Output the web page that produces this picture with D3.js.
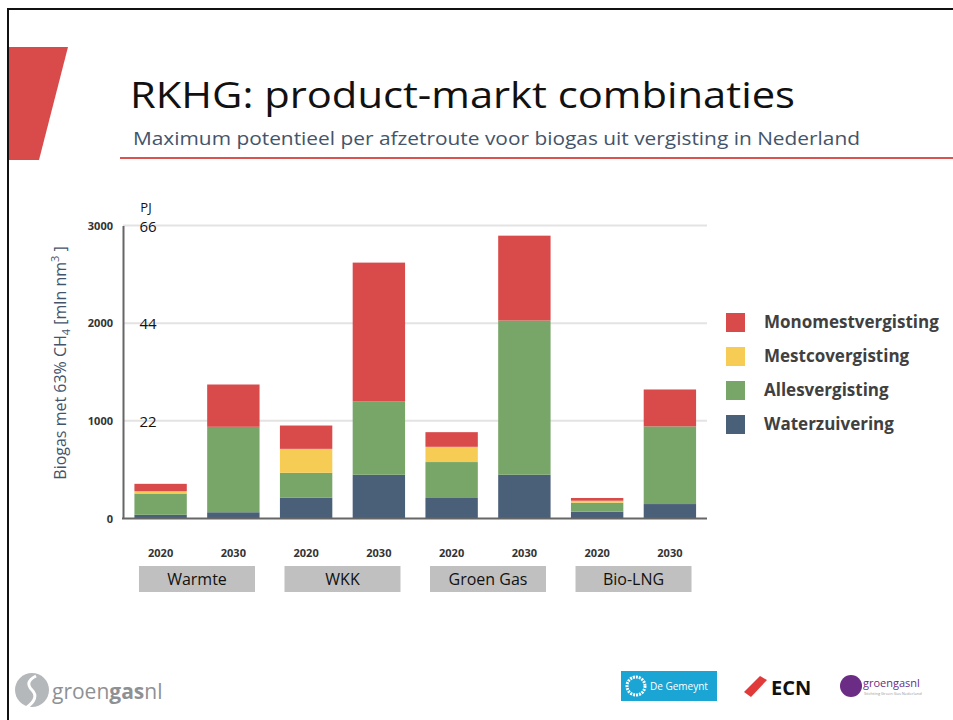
<!DOCTYPE html>
<html>
<head>
<meta charset="utf-8">
<script src="https://cdn.jsdelivr.net/npm/d3@7"></script>
<style>
  body { margin: 0; background: #fff; }
  svg { display: block; }
  text { font-family: "Open Sans", sans-serif; }
</style>
</head>
<body>
<div id="chart"></div>
<script>
var groups = ['Warmte', 'WKK', 'Groen Gas', 'Bio-LNG'],
    years = ['2020', '2030'],
    categories = ['Warmte 2020', 'Warmte 2030', 'WKK 2020', 'WKK 2030',
                  'Groen Gas 2020', 'Groen Gas 2030', 'Bio-LNG 2020', 'Bio-LNG 2030'];

var waterzuivering     = [38, 64, 212, 448, 210, 448, 70, 148],
    allesvergisting    = [218, 875, 256, 753, 368, 1579, 92, 795],
    mestcovergisting   = [23, 0, 245, 0, 156, 0, 20, 0],
    monomestvergisting = [76, 433, 239, 1419, 150, 869, 28, 378];

var yTicks = [0, 1000, 2000, 3000],
    pjTicks = [1000, 2000, 3000],
    pjLabels = ['22', '44', '66'];

var seriesNames = ['Waterzuivering', 'Allesvergisting', 'Mestcovergisting', 'Monomestvergisting'],
    legendOrder = ['Monomestvergisting', 'Mestcovergisting', 'Allesvergisting', 'Waterzuivering'];

var colours = ['#4a5f78', '#78a668', '#f6cc55', '#d94b4b'];

var width = 953, height = 720;

var svg = d3.select('#chart').append('svg')
    .attr('width', width)
    .attr('height', height);

// slide frame
svg.append('path')
    .attr('d', 'M8,720 L8,9 L953,9')
    .attr('fill', 'none')
    .attr('stroke', '#111')
    .attr('stroke-width', 2);

// red accent on the left
svg.append('path')
    .attr('d', 'M9,47 L68,47 L39,160 L9,160 Z')
    .attr('fill', '#d94b4b');

svg.append('text')
    .attr('x', 130)
    .attr('y', 108)
    .attr('textLength', 665)
    .attr('lengthAdjust', 'spacingAndGlyphs')
    .style('font-size', '37px')
    .style('fill', '#111')
    .text('RKHG: product-markt combinaties');

svg.append('text')
    .attr('x', 133)
    .attr('y', 145)
    .attr('textLength', 727)
    .attr('lengthAdjust', 'spacingAndGlyphs')
    .style('font-size', '19px')
    .style('fill', '#44546a')
    .text('Maximum potentieel per afzetroute voor biogas uit vergisting in Nederland');

svg.append('line')
    .attr('x1', 120).attr('x2', 953)
    .attr('y1', 158).attr('y2', 158)
    .attr('stroke', '#d9534f')
    .attr('stroke-width', 2);

// chart
var xScale = d3.scaleBand().domain(categories).range([123.5, 707])
        .paddingInner(0.28).paddingOuter(0.15),
    yScale = d3.scaleLinear().domain([0, 3000]).range([518.5, 225.5]),
    colourScale = d3.scaleOrdinal(seriesNames, colours);

var rows = categories.map(function(c, i) {
  return {
    cat: c,
    Waterzuivering: waterzuivering[i],
    Allesvergisting: allesvergisting[i],
    Mestcovergisting: mestcovergisting[i],
    Monomestvergisting: monomestvergisting[i]
  };
});

// gridlines
svg.append('g')
  .selectAll('line')
    .data(yTicks.filter(function(d) { return d > 0; }))
  .enter().append('line')
    .attr('x1', 123).attr('x2', 707)
    .attr('y1', function(d) { return yScale(d); })
    .attr('y2', function(d) { return yScale(d); })
    .attr('stroke', '#e3e3e3')
    .attr('stroke-width', 2);

var stacked = d3.stack().keys(seriesNames)(rows);

svg.append('g')
  .selectAll('g')
    .data(stacked)
  .enter().append('g')
    .attr('fill', function(d) { return colourScale(d.key); })
  .selectAll('rect')
    .data(function(d) { return d; })
  .enter().append('rect')
    .attr('x', function(d) { return xScale(d.data.cat); })
    .attr('width', xScale.bandwidth())
    .attr('y', function(d) { return yScale(d[1]); })
    .attr('height', function(d) { return yScale(d[0]) - yScale(d[1]); });

// axis lines
var yAxis = svg.append('g')
    .attr('transform', 'translate(123,0)')
    .call(d3.axisLeft(yScale).tickValues(yTicks).tickFormat(d3.format('d'))
      .tickSize(0).tickPadding(10));
yAxis.select('.domain').attr('stroke', '#666').attr('stroke-width', 2);
yAxis.selectAll('text')
    .style('font-size', '11px')
    .style('font-weight', 'bold')
    .style('fill', '#333');

svg.append('line')
    .attr('x1', 122).attr('x2', 707)
    .attr('y1', yScale(0)).attr('y2', yScale(0))
    .attr('stroke', '#666')
    .attr('stroke-width', 2);

// PJ secondary labels
svg.append('text')
    .attr('x', 146)
    .attr('y', 212)
    .style('font-size', '13px')
    .style('fill', '#111')
    .style('text-anchor', 'middle')
    .text('PJ');

svg.append('g')
  .selectAll('text')
    .data(pjTicks)
  .enter().append('text')
    .attr('x', 148)
    .attr('y', function(d) { return yScale(d) + 6; })
    .style('font-size', '15px')
    .style('fill', '#111')
    .style('text-anchor', 'middle')
    .text(function(d, i) { return pjLabels[i]; });

// y title
var yTitle = svg.append('text')
    .attr('transform', 'translate(66,363) rotate(-90)')
    .style('font-size', '16px')
    .style('fill', '#44546a')
    .style('text-anchor', 'middle');
yTitle.append('tspan').text('Biogas met 63% CH');
yTitle.append('tspan').attr('dy', 4).style('font-size', '11px').text('4');
yTitle.append('tspan').attr('dy', -4).text(' [mln nm');
yTitle.append('tspan').attr('dy', -7).style('font-size', '11px').text('3');
yTitle.append('tspan').attr('dy', 7).text(' ]');

// year labels
svg.append('g')
  .selectAll('text')
    .data(categories)
  .enter().append('text')
    .attr('x', function(d) { return xScale(d) + xScale.bandwidth() / 2; })
    .attr('y', 557)
    .style('font-size', '11px')
    .style('font-weight', 'bold')
    .style('fill', '#333')
    .style('text-anchor', 'middle')
    .text(function(d, i) { return years[i % 2]; });

// group boxes
var groupBoxes = svg.append('g')
  .selectAll('g')
    .data(groups)
  .enter().append('g')
    .attr('transform', function(d) {
      var cx = (xScale(d + ' 2020') + xScale(d + ' 2030') + xScale.bandwidth()) / 2;
      return 'translate(' + cx + ',0)';
    });

groupBoxes.append('rect')
    .attr('x', -58)
    .attr('y', 566)
    .attr('width', 116)
    .attr('height', 26)
    .attr('fill', '#c0c0c0');

groupBoxes.append('text')
    .attr('y', 585)
    .style('font-size', '16px')
    .style('fill', '#111')
    .style('text-anchor', 'middle')
    .text(function(d) { return d; });

// legend
var legend = svg.append('g')
  .selectAll('g')
    .data(legendOrder)
  .enter().append('g')
    .attr('transform', function(d, i) { return 'translate(726,' + (313 + i * 34) + ')'; });

legend.append('rect')
    .attr('width', 19)
    .attr('height', 19)
    .attr('fill', colourScale);

legend.append('text')
    .attr('x', 38)
    .attr('y', 15)
    .style('font-size', '17px')
    .style('font-weight', 'bold')
    .style('fill', '#404040')
    .text(function(d) { return d; });

// footer logos
var foot = svg.append('g');
foot.append('circle').attr('cx', 32).attr('cy', 690).attr('r', 17).attr('fill', '#b5b8bb');
foot.append('path')
    .attr('d', 'M36,676 q-12,6 -4,14 q8,8 -6,18')
    .attr('fill', 'none').attr('stroke', '#fff').attr('stroke-width', 3);
var gtxt = foot.append('text')
    .attr('x', 52).attr('y', 699)
    .style('font-size', '21px')
    .style('fill', '#8e9194');
gtxt.append('tspan').text('groen');
gtxt.append('tspan').style('font-weight', 'bold').text('gas');
gtxt.append('tspan').text('nl');

foot.append('rect').attr('x', 621).attr('y', 671).attr('width', 96).attr('height', 30).attr('fill', '#1aa5d4');
foot.append('circle').attr('cx', 636).attr('cy', 686).attr('r', 9)
    .attr('fill', 'none').attr('stroke', '#fff').attr('stroke-width', 3).attr('stroke-dasharray', '2,1');
foot.append('text').attr('x', 650).attr('y', 690)
    .style('font-size', '10px').style('fill', '#fff').text('De Gemeynt');

foot.append('path')
    .attr('d', 'M744,692 L760,676 L767,680 L751,697 Z')
    .attr('fill', '#e03a3a');
foot.append('text').attr('x', 771).attr('y', 695)
    .style('font-size', '20px').style('font-weight', 'bold').style('fill', '#111').text('ECN');

foot.append('circle').attr('cx', 851).attr('cy', 686).attr('r', 11).attr('fill', '#6a2c84');
foot.append('text').attr('x', 863).attr('y', 687)
    .style('font-size', '11px').style('fill', '#6a2c84').text('groengasnl');
foot.append('text').attr('x', 864).attr('y', 695)
    .style('font-size', '4px').style('fill', '#999').text('Stichting Groen Gas Nederland');
</script>
</body>
</html>
